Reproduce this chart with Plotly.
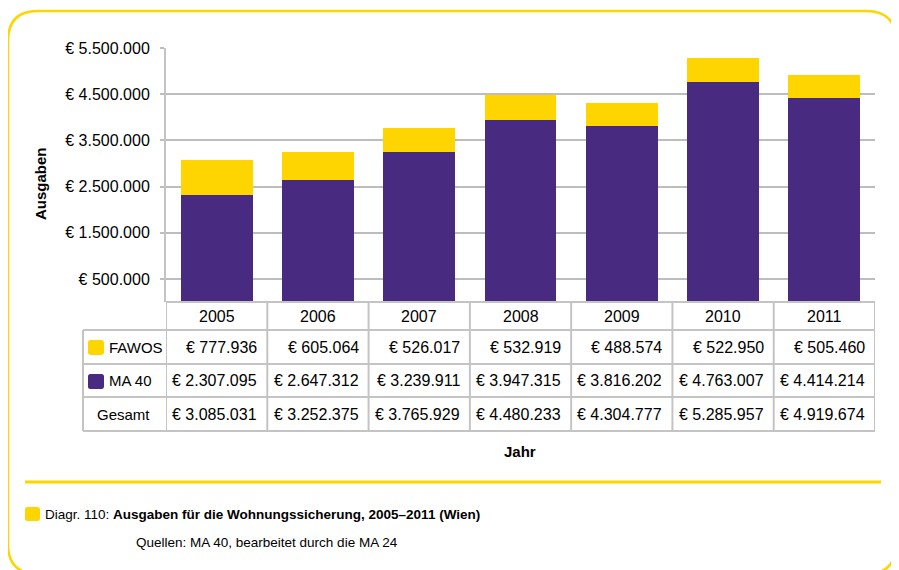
import plotly.graph_objects as go

# ---------------- data ----------------
years = ["2005", "2006", "2007", "2008", "2009", "2010", "2011"]
fawos = [777936, 605064, 526017, 532919, 488574, 522950, 505460]
ma40 = [2307095, 2647312, 3239911, 3947315, 3816202, 4763007, 4414214]
gesamt = [3085031, 3252375, 3765929, 4480233, 4304777, 5285957, 4919674]
series_names = ["FAWOS", "MA 40"]
total_label = "Gesamt"
y_tick_values = [500000, 1500000, 2500000, 3500000, 4500000, 5500000]
y_title = "Ausgaben"
x_title = "Jahr"
caption_prefix = "Diagr. 110: "
caption_title = "Ausgaben für die Wohnungssicherung, 2005–2011 (Wien)"
caption_source = "Quellen: MA 40, bearbeitet durch die MA 24"

# ---------------- style ----------------
YELLOW = "#FFD500"
PURPLE = "#482A80"
GRID = "#BDBDBD"
TABLE = "#C4C4C4"
FONT = "Liberation Sans, Arial, sans-serif"
FS = 16

OFF = 8  # page body margin offset
W, H = 899 - OFF, 570 - OFF
PL, PR, PT, PB = 166, 875, 48, 302   # plot area in screen pixels
L, T = PL - OFF, PT - OFF
PW, PH = PR - PL, PB - PT
R = W - L - PW
B = H - T - PH


def px(x):
    return (x - PL) / PW


def py(y):
    return (PB - y) / PH


def eur(v):
    return "€ " + f"{v:,}".replace(",", ".")


def rrect(x0, y0, x1, y1, r):
    X = lambda v: f"{px(v):.5f}"
    Y = lambda v: f"{py(v):.5f}"
    return (f"M {X(x0+r)},{Y(y0)} L {X(x1-r)},{Y(y0)} Q {X(x1)},{Y(y0)} {X(x1)},{Y(y0+r)} "
            f"L {X(x1)},{Y(y1-r)} Q {X(x1)},{Y(y1)} {X(x1-r)},{Y(y1)} "
            f"L {X(x0+r)},{Y(y1)} Q {X(x0)},{Y(y1)} {X(x0)},{Y(y1-r)} "
            f"L {X(x0)},{Y(y0+r)} Q {X(x0)},{Y(y0)} {X(x0+r)},{Y(y0)} Z")


xs = list(range(len(years)))

fig = go.Figure()
fig.add_trace(go.Bar(x=xs, y=ma40, name=series_names[1], marker=dict(color=PURPLE, line=dict(width=0))))
fig.add_trace(go.Bar(x=xs, y=fawos, name=series_names[0], marker=dict(color=YELLOW, line=dict(width=0))))

shapes = []
annotations = []

# outer rounded border
shapes.append(dict(type="path", xref="paper", yref="paper", path=rrect(8, 11, 896, 574, 30),
                   line=dict(color=YELLOW, width=2.5), fillcolor="rgba(0,0,0,0)", layer="below"))
# divider line
shapes.append(dict(type="line", xref="paper", yref="paper", x0=px(25), x1=px(881), y0=py(482), y1=py(482),
                   line=dict(color=YELLOW, width=3)))
# caption square
shapes.append(dict(type="path", xref="paper", yref="paper", path=rrect(25, 507, 40, 521, 2.5),
                   fillcolor=YELLOW, line=dict(width=0)))

# table grid
row_y = [302, 330, 364, 397, 431]
for i, yy in enumerate(row_y):
    x0 = 0.0 if i == 0 else px(83)
    shapes.append(dict(type="line", xref="paper", yref="paper", x0=x0, x1=1.0, y0=py(yy), y1=py(yy),
                       line=dict(color=TABLE, width=2)))
for k in range(len(years) + 1):
    shapes.append(dict(type="line", xref="x", yref="paper", x0=k - 0.5, x1=k - 0.5,
                       y0=py(302), y1=py(431), line=dict(color=TABLE, width=2)))
shapes.append(dict(type="line", xref="paper", yref="paper", x0=px(83), x1=px(83),
                   y0=py(330), y1=py(431), line=dict(color=TABLE, width=2)))

# legend squares in table
shapes.append(dict(type="path", xref="paper", yref="paper", path=rrect(88, 340, 104, 355, 2.5),
                   fillcolor=YELLOW, line=dict(width=0)))
shapes.append(dict(type="path", xref="paper", yref="paper", path=rrect(88, 374, 104, 389, 2.5),
                   fillcolor=PURPLE, line=dict(width=0)))

font = dict(family=FONT, size=FS, color="black")
lab_font = dict(family=FONT, size=15, color="black")

row_mid = [(row_y[j] + row_y[j + 1]) / 2 for j in range(4)]
for i, yr in enumerate(years):
    annotations.append(dict(x=i, xref="x", y=py(row_mid[0]), yref="paper", text=yr, showarrow=False,
                            xanchor="center", yanchor="middle", font=font))
    for j, arr in enumerate([fawos, ma40, gesamt]):
        annotations.append(dict(x=i + 0.5, xref="x", xshift=-8, y=py(row_mid[j + 1]), yref="paper",
                                text=eur(arr[i]), showarrow=False, xanchor="right", yanchor="middle",
                                font=font))

annotations.append(dict(x=px(107), xref="paper", y=py(row_mid[1]), yref="paper", text=series_names[0],
                        showarrow=False, xanchor="left", yanchor="middle", font=lab_font))
annotations.append(dict(x=px(107), xref="paper", y=py(row_mid[2]), yref="paper", text=series_names[1],
                        showarrow=False, xanchor="left", yanchor="middle", font=lab_font))
annotations.append(dict(x=px(123), xref="paper", y=py(row_mid[3]), yref="paper", text=total_label,
                        showarrow=False, xanchor="center", yanchor="middle", font=lab_font))

# axis titles
annotations.append(dict(x=px(41), xref="paper", y=py(184), yref="paper", text=f"<b>{y_title}</b>",
                        textangle=-90, showarrow=False, xanchor="center", yanchor="middle",
                        font=dict(family=FONT, size=15, color="black")))
annotations.append(dict(x=px(520), xref="paper", y=py(452), yref="paper", text=f"<b>{x_title}</b>",
                        showarrow=False, xanchor="center", yanchor="middle",
                        font=dict(family=FONT, size=15, color="black")))

# caption
annotations.append(dict(x=px(43), xref="paper", y=py(515), yref="paper",
                        text=f"{caption_prefix}<b>{caption_title}</b>", showarrow=False,
                        xanchor="left", yanchor="middle", font=dict(family=FONT, size=13.5, color="black")))
annotations.append(dict(x=px(134), xref="paper", y=py(542), yref="paper", text=caption_source,
                        showarrow=False, xanchor="left", yanchor="middle",
                        font=dict(family=FONT, size=13.5, color="black")))

fig.update_layout(
    width=W, height=H,
    margin=dict(l=L, r=R, t=T, b=B, pad=0),
    paper_bgcolor="white", plot_bgcolor="white",
    barmode="stack", bargap=0.29,
    showlegend=False,
    font=font,
    shapes=shapes,
    annotations=annotations,
    xaxis=dict(range=[-0.5, len(years) - 0.5], showticklabels=False, showgrid=False, zeroline=False,
               showline=False, ticks="", fixedrange=True),
    yaxis=dict(range=[0, 5500000], tickvals=y_tick_values, ticktext=[eur(v) for v in y_tick_values],
               showgrid=True, gridcolor=GRID, gridwidth=1.5, zeroline=False,
               showline=True, linecolor=TABLE, linewidth=2,
               ticks="outside", ticklen=4, tickcolor=GRID, tickwidth=1.5,
               ticklabelstandoff=7, tickfont=font, fixedrange=True),
)

fig.write_html("out.html")
